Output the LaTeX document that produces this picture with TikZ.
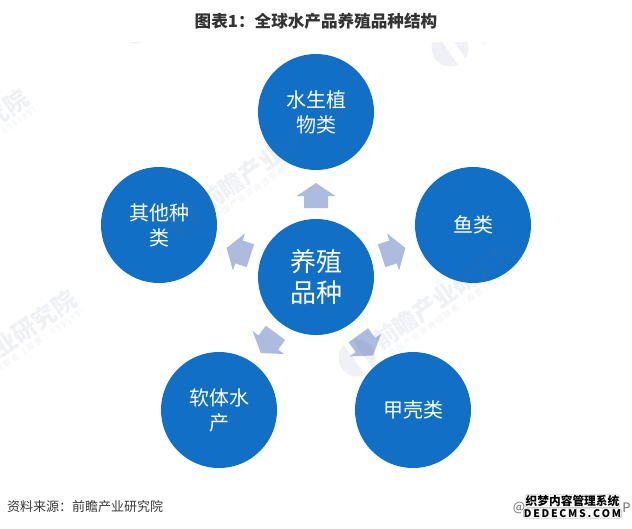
\documentclass[tikz,border=0pt]{standalone}
\usepackage{fontspec}
\setmainfont{Noto Sans CJK SC}
\newfontfamily\wmsmall[LetterSpace=20]{Noto Sans CJK SC}
\definecolor{bubble}{HTML}{1170C6}
\definecolor{blockarrow}{HTML}{ADBBDF}
\definecolor{wmcolor}{HTML}{5A6A90}
\definecolor{titleink}{HTML}{333333}
\definecolor{footink}{HTML}{3A3A3A}
\newcommand{\wmark}[2]{%
  \begin{scope}[shift={(#1,#2)},rotate=35]
    \begin{scope}
      \clip (-30,-30) rectangle (-3,30);
      \fill[wmcolor,opacity=.09] (0,0) circle (18.5);
    \end{scope}
    \begin{scope}
      \clip (7,-30) rectangle (30,30);
      \fill[wmcolor,opacity=.09] (0,0) circle (18.5);
    \end{scope}
    \node[text=wmcolor,text opacity=.09,font=\fontsize{24}{24}\selectfont\bfseries,rotate=35] (wmbig#1) at (108,-1) {前瞻产业研究院};
    \node[text=wmcolor,text opacity=.09,font=\fontsize{8}{8}\wmsmall,rotate=35] (wmsmall#1) at (112,16) {中国产业咨询领导者（股票：839599）};
  \end{scope}}
\tikzset{
  bubblenode/.style={circle,fill=bubble,minimum size=116pt,inner sep=0pt,text=white,align=center},
  leaftext/.style={font=\fontsize{20}{25}\selectfont},
  hubtext/.style={font=\fontsize{26}{31}\selectfont},
  arrowshape/.style={fill=blockarrow,draw=none},
  stampline/.style={fill=white,draw=black!30,rounded corners=1.5pt,inner sep=.6pt,text=black}
}
\begin{document}
\begin{tikzpicture}[x=1pt,y=-1pt]
\useasboundingbox (0,0) rectangle (632,528);
\fill[white] (0,0) rectangle (632,528);

\node[bubblenode,hubtext] (hub) at (316,277) {养殖\\品种};
\node[bubblenode,leaftext] (plant) at (316,112) {水生植\\物类};
\node[bubblenode,leaftext] (fish) at (473,225) {鱼类};
\node[bubblenode,leaftext] (crust) at (413,410) {甲壳类};
\node[bubblenode,leaftext] (mollusc) at (219,410) {软体水\\产};
\node[bubblenode,leaftext] (other) at (159,225) {其他种\\类};

\foreach \ang/\off in {0/0,-72/0,-144/3,-216/0,-288/0}{
  \begin{scope}[shift={(hub.center)},rotate=\ang,yshift=\off pt]
    \fill[arrowshape] (0,-94) -- (19.5,-81) -- (12,-81) -- (12,-69)
      -- (-12,-69) -- (-12,-81) -- (-19.5,-81) -- cycle;
  \end{scope}
}

\begin{scope}
  \clip (0,42) rectangle (632,528);
  \wmark{357}{358}
  \wmark{183}{220}
  \wmark{-83}{407}
  \wmark{-131}{206}
  \wmark{450}{48}
  \wmark{135}{25}
\end{scope}

\node[text=titleink,font=\fontsize{16.6}{16.6}\selectfont\bfseries] (title) at (316,21) {图表1：全球水产品养殖品种结构};
\node[text=footink,anchor=west,inner sep=0pt,font=\fontsize{13}{13}\selectfont] (source) at (7,507) {资料来源：前瞻产业研究院};
\node[text=black!55,font=\fontsize{13}{13}\selectfont,inner sep=0pt] (appat) at (519,507.5) {@};
\node[text=black!55,font=\fontsize{13}{13}\selectfont,inner sep=0pt] (appp) at (626.5,507.5) {P};
\node[stampline,font=\fontsize{11.7}{11.7}\selectfont\bfseries] (stampa) at (572.5,501) {织梦内容管理系统};
\node[stampline,font=\fontsize{10.5}{10.5}\selectfont\bfseries] (stampb) at (572.5,513.5) {D\,E\,D\,E\,C\,M\,S\,.\,C\,O\,M};
\end{tikzpicture}
\end{document}
